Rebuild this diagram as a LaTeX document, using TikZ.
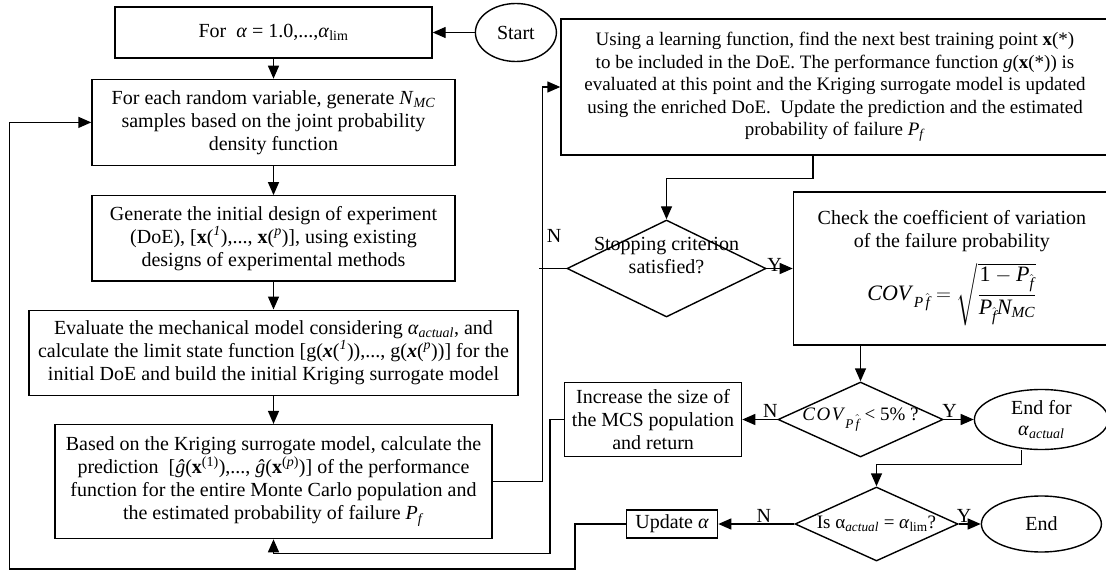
\documentclass[tikz,border=0pt]{standalone}
\usepackage{amsmath}
\usepackage{fontspec}
\setmainfont{Liberation Serif}
\usepackage{tikz}
\usetikzlibrary{shapes.geometric, arrows.meta, positioning}
\newcommand{\boxfont}{\fontsize{20}{23}\selectfont}
\newcommand{\learnfont}{\fontsize{19}{22.5}\selectfont}
\newcommand{\alphait}{\textit{α}}
\tikzset{
  block/.style={rectangle, draw=black, line width=1.4pt, align=center,
                inner sep=2pt, font=\boxfont},
  terminal/.style={ellipse, draw=black, line width=1.4pt, align=center,
                   inner sep=0pt, font=\boxfont},
  decision/.style={diamond, draw=black, line width=1.4pt, inner sep=0pt},
  arrow/.style={-{Triangle[length=13pt, width=11pt]}, line width=1.4pt},
  yn/.style={font=\boxfont, inner sep=1pt},
}

\begin{document}
\begin{tikzpicture}[x=1pt, y=1pt]
  \useasboundingbox (0,0) rectangle (1106,-572);

  % Main column
  \node[block, minimum width=317, minimum height=51] (alpha) at (273.5,-32.5)
    {For\ \ \alphait{} = 1.0,...,\alphait\textsubscript{lim}};
  \node[terminal, right=42pt of alpha, minimum width=81,
        minimum height=58] (start) {Start};
  \node[block, below=20pt of alpha, minimum width=363,
        minimum height=86] (samples)
    {For each random variable, generate \textit{N}\textsubscript{\textit{MC}}\\
     samples based on the joint probability\\density function};
  \node[block, below=29pt of samples, minimum width=363,
        minimum height=85] (doe)
    {Generate the initial design of experiment\\
     (DoE), [\textbf{x}(\textsuperscript{\textit{1}}),...,
     \textbf{x}(\textsuperscript{\textit{p}})], using existing\\
     designs of experimental methods};
  \node[block, below=28pt of doe, minimum width=489,
        minimum height=85] (evaluate)
    {Evaluate the mechanical model considering
     \alphait\textsubscript{\textit{actual}}, and\\
     calculate the limit state function
     [g(\textbf{\textit{x}}(\textsuperscript{\textit{1}})),...,
     g(\textbf{\textit{x}}(\textsuperscript{\textit{p}}))] for the\\
     initial DoE and build the initial Kriging surrogate model};
  \node[block, below=28pt of evaluate, minimum width=437,
        minimum height=114] (predict)
    {Based on the Kriging surrogate model, calculate the\\
     prediction\ \ [\textit{ĝ}(\textbf{x}\textsuperscript{(1)}),...,
     \textit{ĝ}(\textbf{x}\textsuperscript{(\textit{p})})] of the performance\\
     function for the entire Monte Carlo population and\\
     the estimated probability of failure \textit{P}\textsubscript{\textit{f}}};

  % Enrichment loop
  \node[block, font=\learnfont, minimum width=548, minimum height=136]
    (learn) at (835,-87)
    {Using a learning function, find the next best training point
     \textbf{x}(*)\\
     to be included in the DoE. The performance function
     \textit{g}(\textbf{x}(*)) is\\
     evaluated at this point and the Kriging surrogate model is updated\\
     using the enriched DoE.\ \ Update the prediction and the estimated\\
     probability of failure \textit{P}\textsubscript{\textit{f}}};
  \node[decision, minimum width=199, minimum height=97,
        label={[yn, align=center, yshift=13pt]center:Stopping criterion\\satisfied?}]
    (stop) at (666.5,-268.5) {};
  \node[block, right=26pt of stop, minimum width=317,
        minimum height=153] (cov)
    {Check the coefficient of variation\\of the failure probability\\[10pt]
     {\fontsize{22}{26}\selectfont
     $\textit{COV}_{\,\textit{P}\,\hat{\textit{f}}}
      = \sqrt{\dfrac{\text{1} - \textit{P}_{\hat{\textit{f}}}}
                    {\textit{P}_{\hat{\textit{f}}}\textit{N}_{\textit{MC}}}}$}};

  % Convergence checks
  \node[decision, minimum width=165, minimum height=75,
        label={[font=\fontsize{19}{22}\selectfont]center:%
        \textit{C\kern1.5pt O\kern1.5pt V}\textsubscript{\textit{P}\,$\hat{\textit{f}}$}
        < 5\%\ ?}]
    (covcheck) at (860.5,-419.5) {};
  \node[block, left=35pt of covcheck, minimum width=177,
        minimum height=74] (increase)
    {Increase the size of\\the MCS population\\and return};
  \node[terminal, right=30pt of covcheck, minimum width=134,
        minimum height=60, font=\fontsize{20}{21}\selectfont] (endfor)
    {End for\\\alphait\textsubscript{\textit{actual}}};
  \node[decision, minimum width=163, minimum height=74,
        label={[font=\fontsize{19}{22}\selectfont]center:Is α\textsubscript{\textit{actual}} =
        \alphait\textsubscript{lim}?}]
    (islim) at (876.5,-524) {};
  \node[block, left=76pt of islim, minimum width=91,
        minimum height=28] (update) {Update \alphait};
  \node[terminal, right=22pt of islim, minimum width=120,
        minimum height=56] (end) {End};

  % Arrows
  \draw[arrow] (start) -- (alpha);
  \draw[arrow] (alpha) -- (samples);
  \draw[arrow] (samples) -- (doe);
  \draw[arrow] (doe) -- (evaluate);
  \draw[arrow] (evaluate) -- (predict);
  \draw[arrow] (predict.east) -- ++(50,0) |- (learn.west);
  \draw[arrow] ([xshift=-22pt]learn.south) -- ++(0,-23) -| (stop.north);
  \draw[line width=1.4pt] (stop.west) -- ++(-27,0)
    node[yn, pos=0.45, above=24pt] {N};
  \draw[arrow] (stop) -- node[yn, pos=0.3, above, yshift=-5pt] {Y} (cov);
  \draw[arrow] (cov.south -| covcheck.north) -- (covcheck.north);
  \draw[arrow] (covcheck) -- node[yn, pos=0.2, above] {N} (increase);
  \draw[arrow] (covcheck) -- node[yn, pos=0.2, above] {Y} (endfor);
  \draw[arrow] ([xshift=-20pt]endfor.south) -- ++(0,-14) -| (islim.north);
  \draw[arrow] (islim) -- node[yn, pos=0.4, above] {N} (update);
  \draw[arrow] (islim) -- node[yn, pos=0.25, above] {Y} (end);
  \draw[arrow] (increase.west) -- ++(-14,0) -- ++(0,-134) -| (predict.south);
  \draw[arrow] (update.west) -- ++(-51,0) -- ++(0,-45)
    -| ([xshift=-82pt]samples.west) -- (samples.west);
\end{tikzpicture}
\end{document}
